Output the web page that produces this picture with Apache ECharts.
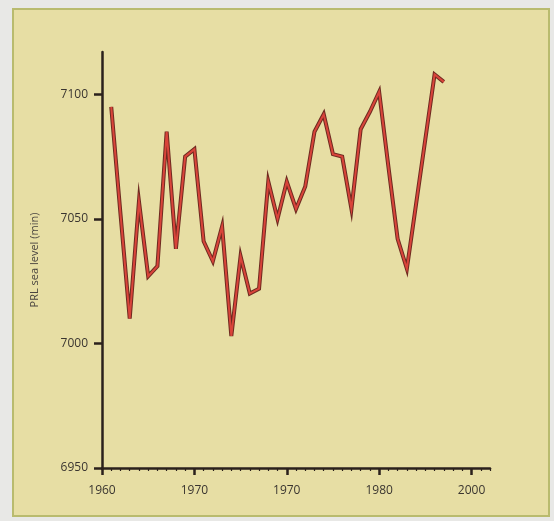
<!DOCTYPE html>
<html>
<head>
<meta charset="utf-8">
<script src="https://cdn.jsdelivr.net/npm/echarts@6/dist/echarts.min.js"></script>
<style>
  html, body { margin: 0; padding: 0; background: #e8e8e6; }
  #panel { position: absolute; left: 12px; top: 8px; width: 534px; height: 505px;
           background: #e7dea4; border: 2px solid #b9bb6e; }
  #chart { position: absolute; left: 0; top: 0; width: 554px; height: 521px; }
</style>
</head>
<body>
<div id="panel"></div>
<div id="chart"></div>
<script>
// ---- data ----
const years = [1961,1962,1963,1964,1965,1966,1967,1968,1969,1970,
               1971,1972,1973,1974,1975,1976,1977,1978,1979,1980,
               1981,1982,1983,1984,1985,1986,1987,1988,1989,1990,
               1991,1992,1993,1994,1995,1996,1997];
const seaLevel = [7095,7052,7010,7057,7027,7031,7085,7038,7075,7078,
                  7041,7033,7047,7003,7035,7020,7022,7065,7050,7065,
                  7054,7063,7085,7092,7076,7075,7054,7086,7093,7101,
                  7071,7042,7030,7056,7082,7108,7105];
const xTickValues = [1960,1970,1980,1990,2000];
const xTickLabels = ['1960','1970','1970','1980','2000'];
const yTickValues = [6950,7000,7050,7100];
const yAxisName = 'PRL sea level (min)';

const points = years.map((y, i) => [y, seaLevel[i]]);
const labelMap = {};
xTickValues.forEach((v, i) => { labelMap[v] = xTickLabels[i]; });

const axisColor = '#2b211c';
const textColor = '#3a3530';
const font = 'Open Sans';

const chart = echarts.init(document.getElementById('chart'), null, {renderer: 'canvas'});
chart.setOption({
  backgroundColor: 'transparent',
  animation: false,
  grid: { left: 102, top: 52, width: 388, bottom: 53 },
  xAxis: [
    {
      type: 'value', min: 1960, max: 2002, interval: 1,
      axisLine: { show: true, lineStyle: { color: axisColor, width: 2.5 } },
      axisTick: { show: true, length: 3, lineStyle: { color: axisColor, width: 1.2 } },
      axisLabel: { show: false },
      splitLine: { show: false }
    },
    {
      type: 'value', min: 1960, max: 2002, interval: 10, position: 'bottom',
      axisLine: { show: false },
      axisTick: { show: true, length: 7, customValues: xTickValues,
                  lineStyle: { color: axisColor, width: 2.5 } },
      axisLabel: { show: true, customValues: xTickValues, margin: 17,
                   color: textColor, fontSize: 12, fontFamily: font,
                   formatter: v => labelMap[v] || '' },
      splitLine: { show: false }
    }
  ],
  yAxis: {
    type: 'value', min: 6950, max: 7117,
    name: yAxisName, nameLocation: 'middle', nameGap: 62, nameRotate: 90,
    nameTextStyle: { color: '#4a4540', fontSize: 11, fontFamily: font },
    axisLine: { show: true, lineStyle: { color: axisColor, width: 2.5 } },
    axisTick: { show: true, length: 8, customValues: yTickValues,
                lineStyle: { color: axisColor, width: 2.5 } },
    axisLabel: { show: true, customValues: yTickValues, margin: 14,
                 color: textColor, fontSize: 12, fontFamily: font,
                 formatter: v => String(v) },
    splitLine: { show: false }
  },
  series: [
    {
      type: 'line', xAxisIndex: 0, data: points, symbol: 'none',
      lineStyle: { color: '#6e2a20', width: 4, join: 'miter' }, z: 2
    },
    {
      type: 'line', xAxisIndex: 0, data: points, symbol: 'none',
      lineStyle: { color: '#d9443a', width: 2, join: 'miter' }, z: 3
    }
  ]
});
</script>
</body>
</html>
